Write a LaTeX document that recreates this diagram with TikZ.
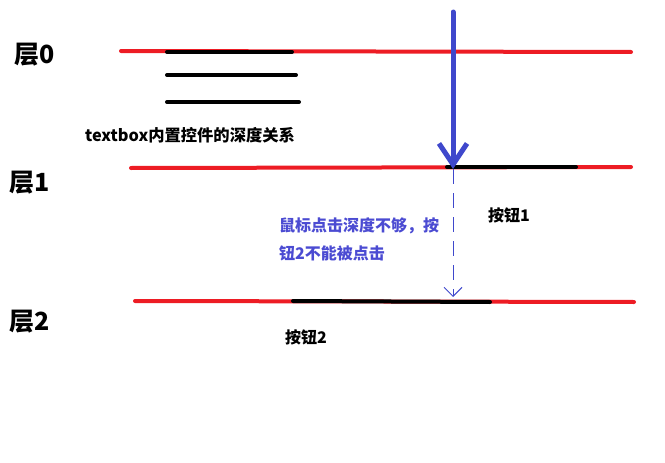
\documentclass[tikz,border=0pt]{standalone}
\usepackage{fontspec}
\setmainfont{Noto Sans CJK SC}
\usetikzlibrary{arrows.meta,positioning}
\definecolor{layerred}{HTML}{ED1C24}
\definecolor{clickblue}{HTML}{3F48CC}
\definecolor{noteblue}{HTML}{4B4BD2}

\begin{document}
\begin{tikzpicture}[x=1pt,y=-1pt,
    layer/.style={draw=layerred,line width=4pt,line cap=round},
    ctrl/.style={draw=black,line width=4pt,line cap=round},
    lname/.style={font=\bfseries\fontsize{25}{28}\selectfont,inner sep=0pt},
    tag/.style={font=\bfseries\fontsize{16}{19}\selectfont,inner sep=0pt}]
  \useasboundingbox (0,0) rectangle (665,463);
  % layer 0 with the textbox lines
  \coordinate (l0a) at (121,51);  \coordinate (l0b) at (631,52);
  \draw[layer] (l0a) -- (l0b);
  \foreach \y/\xe [count=\i] in {52/292,75/296,102/299} {
    \coordinate (t\i a) at (167,\y); \coordinate (t\i b) at (\xe,\y);
    \draw[ctrl] (t\i a) -- (t\i b);
  }
  \node[lname] (n0) at (35,55) {层0};
  \node[tag,anchor=west,font=\bfseries\fontsize{16.3}{19}\selectfont] (tb) at (85,135) {textbox内置控件的深度关系};
  % layer 1 with button 1
  \coordinate (l1a) at (131,168); \coordinate (l1b) at (631,167);
  \draw[layer] (l1a) -- (l1b);
  \coordinate (b1a) at (447,167); \coordinate (b1b) at (576,167);
  \draw[ctrl] (b1a) -- (b1b);
  \node[lname] (n1) at (30,183) {层1};
  \node[tag,anchor=west] (btn1) at (488,215) {按钮1};
  % layer 2 with button 2
  \coordinate (l2a) at (135,301); \coordinate (l2b) at (634,302);
  \draw[layer] (l2a) -- (l2b);
  \coordinate (b2a) at (293,301); \coordinate (b2b) at (490,302);
  \draw[ctrl] (b2a) -- (b2b);
  \node[lname] (n2) at (30,322) {层2};
  \node[tag,anchor=west] (btn2) at (285,337) {按钮2};
  % mouse click
  \coordinate (mtop) at (453,12); \coordinate (mhit) at (453,169);
  \coordinate (mlow) at (453,297);
  \draw[clickblue,line width=5pt,line cap=round,
    -{Straight Barb[length=21pt,width=28pt]}] (mtop) -- (mhit);
  \draw[clickblue,line width=1pt,dash pattern=on 15pt off 9pt,
    -{Straight Barb[length=9pt,width=18pt]}] (mhit) -- (mlow);
  \node[tag,text=noteblue,align=left,anchor=west,
    font=\bfseries\fontsize{16}{28}\selectfont] (why) at (279,239)
    {鼠标点击深度不够，按\\钮2不能被点击};
\end{tikzpicture}
\end{document}
